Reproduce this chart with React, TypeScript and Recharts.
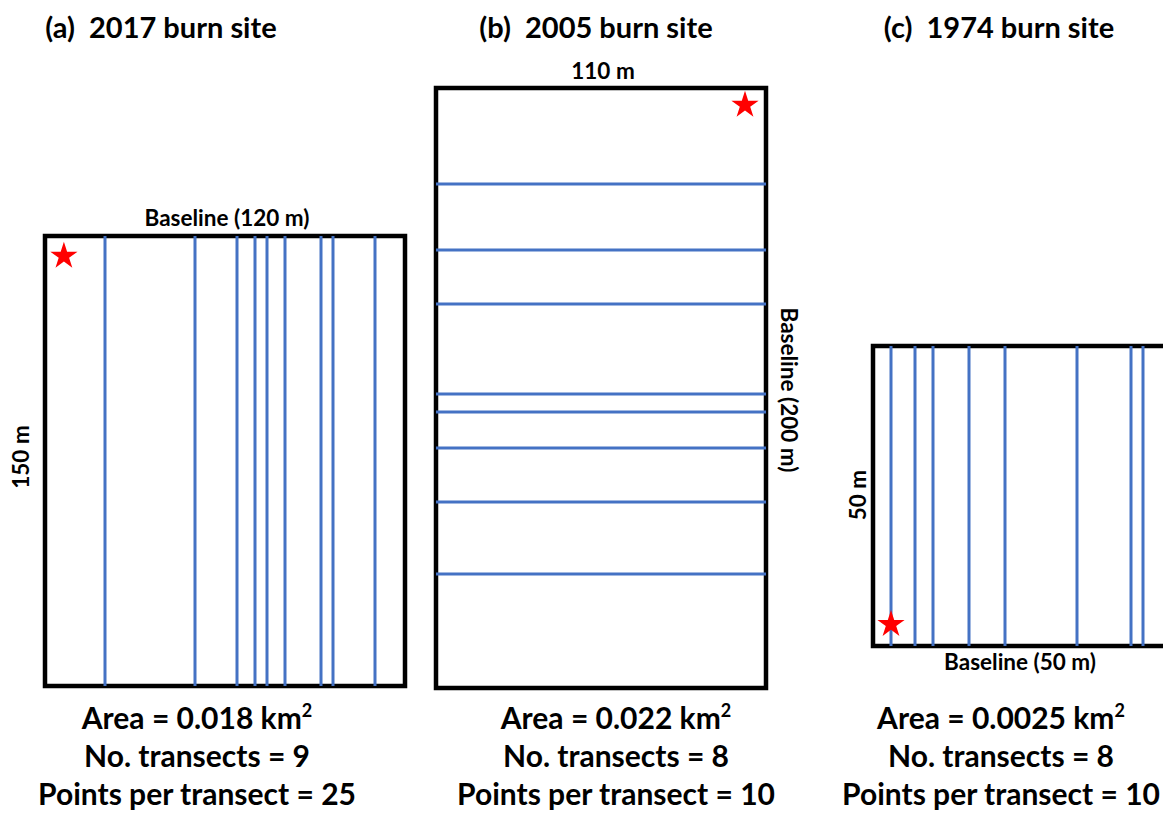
import React from 'react';
import {
  ScatterChart,
  Scatter,
  XAxis,
  YAxis,
  ReferenceLine,
  ReferenceArea,
  Symbols,
} from 'recharts';

// site sizes in metres (width, height)
const siteA = [120, 150];
const siteB = [110, 200];
const siteC = [50, 50];

// transect offsets along the baseline, metres
const transectsA = [20, 50, 64, 70, 74, 80, 92, 96, 110];
const transectsB = [32, 54, 72, 102, 108, 120, 138, 162];
const transectsC = [3, 7, 10, 16, 22, 34, 43, 45];

// start point (star), metres from the top-left corner
const starA = [{ x: 6.3, y: 6.7 }];
const starB = [{ x: 103, y: 5.7 }];
const starC = [{ x: 3, y: 46.4 }];

const titles = ['(a)  2017 burn site', '(b)  2005 burn site', '(c)  1974 burn site'];
const areas = ['0.018', '0.022', '0.0025'];
const transectCounts = [9, 8, 8];
const pointsPerTransect = [25, 10, 10];

const BLUE = '#4472C4';
const FONT = "Lato, 'Open Sans', sans-serif";

type PanelProps = {
  left: number;
  top: number;
  scale: number;
  size: number[];
  transects: number[];
  vertical: boolean;
  star: { x: number; y: number }[];
};

const renderStar = (props: any) => (
  <Symbols cx={props.cx} cy={props.cy} type="star" size={230} fill="#FF0000" />
);

const SitePanel = ({ left, top, scale, size, transects, vertical, star }: PanelProps) => {
  const m = 14;
  const w = size[0] * scale;
  const h = size[1] * scale;
  return (
    <div style={{ position: 'absolute', left: left - m, top: top - m }}>
      <ScatterChart width={w + 2 * m} height={h + 2 * m} margin={{ top: m, right: m, bottom: m, left: m }}>
        <XAxis type="number" dataKey="x" domain={[0, size[0]]} hide allowDataOverflow />
        <YAxis type="number" dataKey="y" domain={[0, size[1]]} reversed hide allowDataOverflow />
        {transects.map((v) =>
          vertical ? (
            <ReferenceLine key={v} x={v} stroke={BLUE} strokeWidth={3} />
          ) : (
            <ReferenceLine key={v} y={v} stroke={BLUE} strokeWidth={3} />
          )
        )}
        <ReferenceArea
          x1={0}
          x2={size[0]}
          y1={0}
          y2={size[1]}
          fill="none"
          fillOpacity={0}
          stroke="#000"
          strokeWidth={4.5}
        />
        <Scatter data={star} shape={renderStar} fill="#FF0000" isAnimationActive={false} />
      </ScatterChart>
    </div>
  );
};

const StatsBlock = ({ cx, i }: { cx: number; i: number }) => (
  <g textAnchor="middle" fontSize={30} fontWeight={700}>
    <text x={cx} y={729}>
      Area = {areas[i]} km<tspan fontSize={18} dy={-12}>2</tspan>
    </text>
    <text x={cx} y={767}>No. transects = {transectCounts[i]}</text>
    <text x={cx} y={805}>Points per transect = {pointsPerTransect[i]}</text>
  </g>
);

export default function App() {
  return (
    <div
      style={{
        position: 'absolute',
        left: 0,
        top: 0,
        width: 1163,
        height: 813,
        overflow: 'hidden',
        background: '#fff',
      }}
    >
      <SitePanel left={45} top={236} scale={3} size={siteA} transects={transectsA} vertical star={starA} />
      <SitePanel left={435.5} top={88} scale={3} size={siteB} transects={transectsB} vertical={false} star={starB} />
      <SitePanel left={873} top={345.5} scale={6} size={siteC} transects={transectsC} vertical star={starC} />

      <svg
        width={1163}
        height={813}
        style={{ position: 'absolute', left: 0, top: 0, pointerEvents: 'none' }}
        fontFamily={FONT}
        fill="#000"
      >
        <g fontSize={29} fontWeight={700} textAnchor="middle">
          <text x={161} y={38} xmlSpace="preserve">{titles[0]}</text>
          <text x={596} y={38} xmlSpace="preserve">{titles[1]}</text>
          <text x={999} y={38} xmlSpace="preserve">{titles[2]}</text>
        </g>

        <g fontSize={22.5} fontWeight={700} textAnchor="middle">
          <text x={227} y={226}>Baseline (120 m)</text>
          <text x={603} y={79}>110 m</text>
          <text x={1020} y={670}>Baseline (50 m)</text>
          <text transform="translate(29 457) rotate(-90)">150 m</text>
          <text transform="translate(866 495) rotate(-90)">50 m</text>
          <text transform="translate(781 390) rotate(90)">Baseline (200 m)</text>
        </g>

        <StatsBlock cx={197} i={0} />
        <StatsBlock cx={616} i={1} />
        <StatsBlock cx={1001} i={2} />
      </svg>
    </div>
  );
}
